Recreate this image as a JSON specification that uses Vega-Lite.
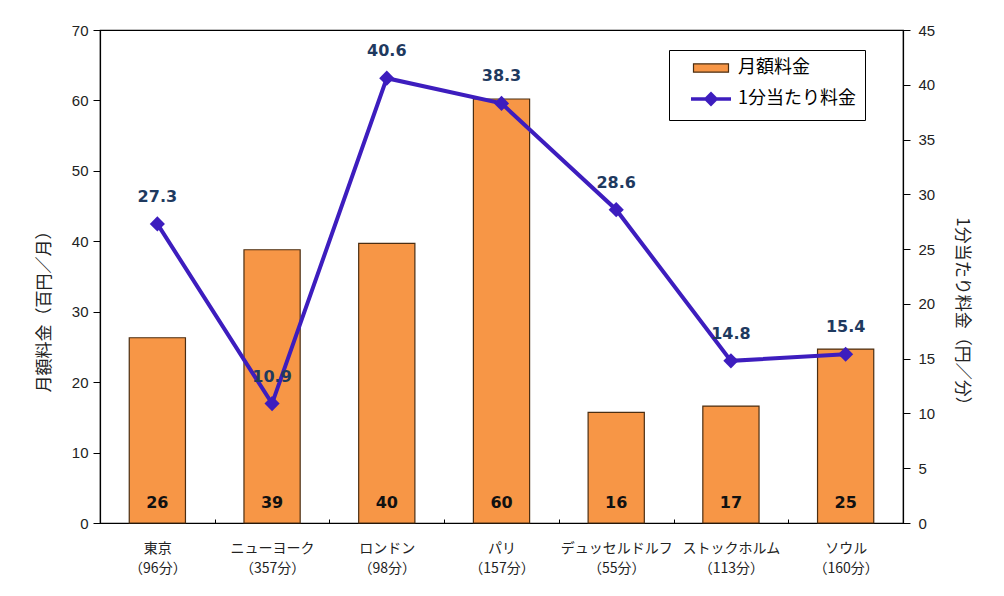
{
  "$schema": "https://vega.github.io/schema/vega-lite/v6.json",
  "width": 803,
  "height": 493,
  "autosize": {"type": "none"},
  "padding": {"left": 100, "top": 30, "right": 101, "bottom": 73},
  "background": "white",
  "config": {
    "view": {"stroke": "#000", "strokeWidth": 1.2},
    "axis": {
      "domainColor": "#000",
      "domainWidth": 1.2,
      "tickColor": "#000",
      "labelColor": "#222",
      "titleColor": "#222",
      "grid": false
    },
    "legend": {
      "orient": "none",
      "legendX": 569,
      "legendY": 20,
      "strokeColor": "#000",
      "fillColor": "white",
      "padding": 9,
      "rowPadding": 10,
      "symbolSize": 400,
      "symbolOffset": 24,
      "labelOffset": 18,
      "labelFont": "Noto Sans CJK JP",
      "labelFontSize": 18,
      "labelColor": "#000"
    }
  },
  "data": {
    "values": [
      {"city": "東京\n（96分）", "fee": 26.3, "perMin": 27.3},
      {"city": "ニューヨーク\n（357分）", "fee": 38.8, "perMin": 10.9},
      {"city": "ロンドン\n（98分）", "fee": 39.7, "perMin": 40.6},
      {"city": "パリ\n（157分）", "fee": 60.2, "perMin": 38.3},
      {"city": "デュッセルドルフ\n（55分）", "fee": 15.7, "perMin": 28.6},
      {"city": "ストックホルム\n（113分）", "fee": 16.6, "perMin": 14.8},
      {"city": "ソウル\n（160分）", "fee": 24.7, "perMin": 15.4}
    ]
  },
  "encoding": {
    "x": {
      "field": "city",
      "type": "nominal",
      "sort": null,
      "scale": {"paddingInner": 0, "paddingOuter": 0},
      "axis": {
        "title": null,
        "labelAngle": 0,
        "labelExpr": "split(datum.label, '\\n')",
        "labelFont": "Noto Sans CJK JP",
        "labelFontSize": 14,
        "labelLineHeight": 20,
        "tickBand": "extent",
        "tickSize": -4,
        "labelPadding": 22
      }
    }
  },
  "layer": [
    {
      "encoding": {
        "y": {
          "field": "fee",
          "type": "quantitative",
          "scale": {"domain": [0, 70]},
          "axis": {
            "orient": "left",
            "title": "月額料金（百円／月）",
            "values": [0, 10, 20, 30, 40, 50, 60, 70],
            "tickSize": 7,
            "labelPadding": 5,
            "labelFont": "Liberation Sans",
            "labelFontSize": 15,
            "titleFont": "Noto Sans CJK JP",
            "titleFontSize": 17,
            "titleFontWeight": "normal",
            "titlePadding": 18,
            "titleY": 277
          }
        }
      },
      "layer": [
        {
          "mark": {"type": "bar", "width": {"band": 0.49}, "stroke": "#4B2E12", "strokeWidth": 1.2},
          "encoding": {
            "color": {
              "datum": "月額料金",
              "type": "nominal",
              "scale": {"domain": ["月額料金", "1分当たり料金"], "range": ["#F79646", "#3D1DBE"]},
              "legend": {
                "title": null,
                "labelExpr": "datum.label + '　　'",
                "symbolType": {"expr": "datum.value === '月額料金' ? 'M-1.75,-0.42H1.75V0.42H-1.75Z' : 'M-2,0H2M0,-0.5L0.5,0L0,0.5L-0.5,0Z'"},
                "symbolStrokeColor": {"expr": "datum.value === '月額料金' ? '#4B2E12' : '#3D1DBE'"},
                "symbolStrokeWidth": {"expr": "datum.value === '月額料金' ? 1.2 : 3.5"},
                "symbolOpacity": 1
              }
            }
          }
        },
        {
          "mark": {"type": "text", "font": "DejaVu Sans", "fontSize": 16, "fontWeight": "bold", "color": "#111", "baseline": "middle", "dy": -20},
          "encoding": {
            "y": {"datum": 0, "type": "quantitative"},
            "text": {"field": "fee", "type": "quantitative", "format": ".0f"}
          }
        }
      ]
    },
    {
      "encoding": {
        "y": {
          "field": "perMin",
          "type": "quantitative",
          "scale": {"domain": [0, 45]},
          "axis": {
            "orient": "right",
            "title": "1分当たり料金（円／分）",
            "values": [0, 5, 10, 15, 20, 25, 30, 35, 40, 45],
            "tickSize": 7,
            "labelPadding": 8,
            "labelFont": "Liberation Sans",
            "labelFontSize": 15,
            "titleFont": "Noto Sans CJK JP",
            "titleFontSize": 17,
            "titleFontWeight": "normal",
            "titlePadding": 18,
            "titleY": 285
          }
        }
      },
      "layer": [
        {
          "mark": {"type": "line", "strokeWidth": 4, "color": "#3D1DBE"}
        },
        {
          "mark": {"type": "point", "shape": "diamond", "filled": true, "size": 230, "opacity": 1, "color": "#3D1DBE"}
        },
        {
          "mark": {"type": "text", "font": "DejaVu Sans", "fontSize": 16, "fontWeight": "bold", "color": "#1F3A5F", "baseline": "middle", "dy": -27},
          "encoding": {
            "text": {"field": "perMin", "type": "quantitative", "format": ".1f"}
          }
        }
      ]
    }
  ],
  "resolve": {"scale": {"y": "independent"}}
}
